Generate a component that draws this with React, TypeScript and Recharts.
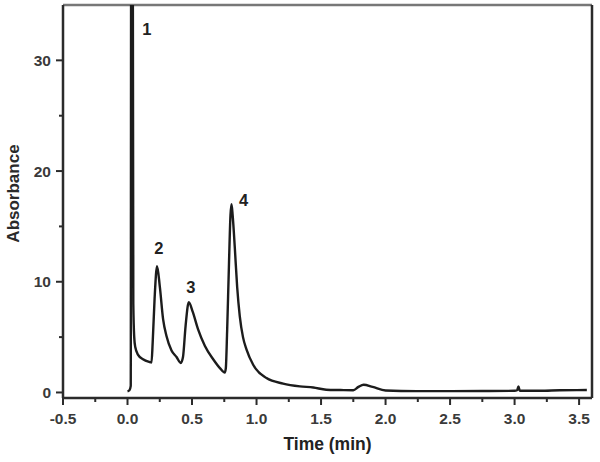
import React from "react";
import { LineChart, Line, XAxis, YAxis, ReferenceLine, ReferenceDot, Label } from "recharts";

const times = [
  0.0, 0.015, 0.025, 0.03, 0.037, 0.045, 0.052, 0.06, 0.082, 0.12,
  0.17, 0.186, 0.195, 0.21, 0.229, 0.25, 0.276, 0.302, 0.341, 0.38,
  0.413, 0.43, 0.45, 0.475, 0.505, 0.547, 0.6, 0.664, 0.716, 0.754,
  0.762, 0.772, 0.785, 0.798, 0.806, 0.815, 0.832, 0.85, 0.87, 0.895,
  0.922, 0.974, 1.077, 1.206, 1.336, 1.44, 1.54, 1.65, 1.75, 1.79,
  1.83, 1.9, 2.0, 2.24, 2.5, 2.75, 3.0, 3.02, 3.03, 3.04,
  3.2, 3.35, 3.56,
];
const absorbance = [
  0.1, 0.2, 0.6, 70, 70, 8, 5, 4.1, 3.4, 3.0,
  2.75, 2.7, 4.5, 8.5, 11.4, 9.6, 6.6, 5.1, 3.8, 3.2,
  2.66, 3.2, 6.0, 8.15, 7.3, 5.7, 4.2, 3.0, 2.2, 1.8,
  2.2, 5.5, 11, 16, 17.0, 16, 13, 9.5, 6.9, 5.0,
  3.9, 2.5, 1.3, 0.8, 0.55, 0.45, 0.25, 0.22, 0.2, 0.5,
  0.7, 0.5, 0.18, 0.12, 0.12, 0.13, 0.15, 0.2, 0.55, 0.15,
  0.15, 0.2, 0.22,
];

const xTicks = [-0.5, -0.25, 0, 0.25, 0.5, 0.75, 1, 1.25, 1.5, 1.75, 2, 2.25, 2.5, 2.75, 3, 3.25, 3.5];
const yTicks = [0, 5, 10, 15, 20, 25, 30];

const peakNames = ["1", "2", "3", "4"];
const peakTimes = [0.15, 0.243, 0.49, 0.9];
const peakHeights = [32.8, 13.0, 9.5, 17.35];

const data = times.map((t, i) => ({ t, a: absorbance[i] }));

const FONT = "'Liberation Sans', Arial, Helvetica, sans-serif";
const AXIS = "#2b2b2b";
const TEXT = "#3a3a3a";

const XTick = (props: any) => {
  const { x, y, payload } = props;
  const v = payload.value as number;
  const major = Math.abs(v * 2 - Math.round(v * 2)) < 1e-6;
  return (
    <g>
      <line x1={x} y1={y} x2={x} y2={y + (major ? 7 : 4)} stroke={AXIS} strokeWidth={2} />
      {major && (
        <text x={x} y={y + 25.5} textAnchor="middle" fontFamily={FONT} fontSize={15.5} fontWeight="bold" fill={TEXT}>
          {v.toFixed(1)}
        </text>
      )}
    </g>
  );
};

const YTick = (props: any) => {
  const { x, y, payload } = props;
  const v = payload.value as number;
  const major = v % 10 === 0;
  return (
    <g>
      <line x1={x} y1={y} x2={x - (major ? 7 : 4)} y2={y} stroke={AXIS} strokeWidth={2} />
      {major && (
        <text x={x - 12} y={y + 5.5} textAnchor="end" fontFamily={FONT} fontSize={15.5} fontWeight="bold" fill={TEXT}>
          {String(v)}
        </text>
      )}
    </g>
  );
};

const XTitle = (props: any) => {
  const vb = props.viewBox;
  return (
    <text x={vb.x + vb.width / 2} y={vb.y + 52} textAnchor="middle" fontFamily={FONT} fontSize={17.5} fontWeight="bold" fill="#222">
      Time (min)
    </text>
  );
};

const YTitle = (props: any) => {
  const vb = props.viewBox;
  const cx = vb.x + 19;
  const cy = vb.y + vb.height / 2 - 8;
  return (
    <text x={cx} y={cy} transform={`rotate(-90, ${cx}, ${cy})`} textAnchor="middle" fontFamily={FONT} fontSize={17} fontWeight="bold" fill="#2a2a2a">
      Absorbance
    </text>
  );
};

export default function App() {
  return (
    <div style={{ position: "absolute", left: 0, top: 0, width: 600, height: 462, background: "#fff" }}>
      <LineChart width={600} height={462} data={data} margin={{ top: 5, right: 8, bottom: 0, left: 0 }}>
        <XAxis
          dataKey="t"
          type="number"
          domain={[-0.5, 3.6]}
          ticks={xTicks}
          allowDataOverflow
          height={64}
          tickSize={0}
          tickMargin={0}
          tickLine={false}
          tick={<XTick />}
          axisLine={{ stroke: AXIS, strokeWidth: 2.5 }}
          interval={0}
        >
          <Label content={<XTitle />} />
        </XAxis>
        <YAxis
          type="number"
          domain={[-0.5, 35]}
          ticks={yTicks}
          allowDataOverflow
          width={63}
          tickSize={0}
          tickMargin={0}
          tickLine={false}
          tick={<YTick />}
          axisLine={{ stroke: AXIS, strokeWidth: 2.5 }}
          interval={0}
        >
          <Label content={<YTitle />} />
        </YAxis>
        <ReferenceLine y={35} stroke="#777" strokeWidth={2.5} />
        <ReferenceLine x={3.6} stroke={AXIS} strokeWidth={2.5} />
        <Line
          type="monotone"
          dataKey="a"
          stroke="#1c1c1c"
          strokeWidth={2.4}
          dot={false}
          isAnimationActive={false}
        />
        {peakNames.map((n, i) => (
          <ReferenceDot
            key={n}
            x={peakTimes[i]}
            y={peakHeights[i]}
            r={0}
            fill="none"
            stroke="none"
            label={{ value: n, position: "center", fontSize: 16.5, fontWeight: "bold", fill: "#222", fontFamily: FONT }}
          />
        ))}
      </LineChart>
    </div>
  );
}
